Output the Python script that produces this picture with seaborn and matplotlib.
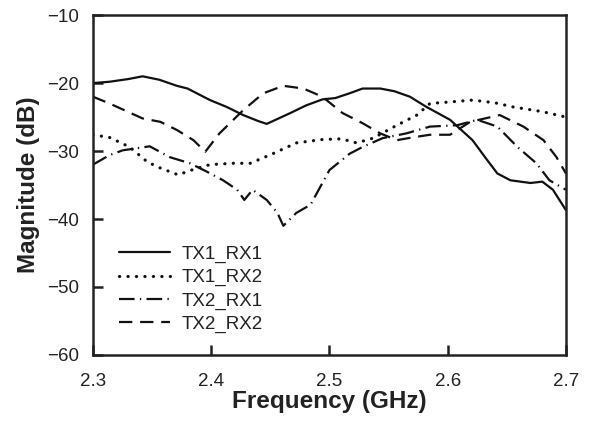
import numpy as np
import pandas as pd
import seaborn as sns
import matplotlib
matplotlib.use('Agg')
import matplotlib.pyplot as plt

sns.set_style('ticks')
plt.rcParams['font.family'] = ['Liberation Sans', 'DejaVu Sans']
plt.rcParams['xtick.direction'] = 'in'
plt.rcParams['ytick.direction'] = 'in'

# values
f_11 = [2.300, 2.314, 2.330, 2.342, 2.356, 2.371, 2.380, 2.399, 2.413, 2.427, 2.440, 2.447,
        2.457, 2.467, 2.480, 2.494, 2.505, 2.517, 2.528, 2.543, 2.555, 2.568, 2.582, 2.602,
        2.621, 2.632, 2.642, 2.653, 2.670, 2.680, 2.689, 2.700]
tx1_rx1 = [-20.0, -19.8, -19.4, -19.0, -19.5, -20.4, -20.8, -22.5, -23.5, -24.7, -25.6, -26.0,
           -25.2, -24.4, -23.3, -22.4, -22.2, -21.5, -20.8, -20.8, -21.2, -22.0, -23.5, -25.4,
           -28.4, -31.0, -33.3, -34.3, -34.7, -34.5, -35.7, -38.7]

f_12 = [2.300, 2.314, 2.331, 2.346, 2.357, 2.372, 2.385, 2.399, 2.418, 2.433, 2.452, 2.472,
        2.494, 2.510, 2.523, 2.537, 2.557, 2.574, 2.585, 2.600, 2.621, 2.640, 2.655, 2.680, 2.700]
tx1_rx2 = [-27.6, -28.0, -29.4, -31.6, -32.5, -33.5, -32.7, -32.0, -31.8, -31.8, -30.4, -28.8,
           -28.3, -28.2, -28.8, -28.1, -26.2, -24.7, -23.0, -22.8, -22.5, -22.9, -23.5, -24.2, -25.0]

f_21 = [2.300, 2.314, 2.325, 2.348, 2.365, 2.382, 2.396, 2.410, 2.422, 2.428, 2.435, 2.447,
        2.456, 2.461, 2.472, 2.484, 2.500, 2.517, 2.528, 2.545, 2.565, 2.585, 2.608, 2.625,
        2.642, 2.659, 2.675, 2.686, 2.700]
tx2_rx1 = [-32.0, -30.6, -29.9, -29.3, -30.9, -31.8, -33.0, -34.3, -35.7, -37.2, -35.7, -37.2,
           -39.1, -41.0, -39.1, -37.9, -32.8, -30.4, -29.4, -28.1, -27.4, -26.4, -26.2, -25.4,
           -26.4, -29.4, -31.8, -34.3, -35.7]

f_22 = [2.300, 2.314, 2.342, 2.357, 2.371, 2.385, 2.395, 2.407, 2.427, 2.444, 2.461, 2.478,
        2.494, 2.511, 2.528, 2.543, 2.557, 2.570, 2.585, 2.602, 2.619, 2.644, 2.664, 2.681,
        2.692, 2.700]
tx2_rx2 = [-22.0, -23.0, -25.2, -25.7, -26.9, -28.4, -30.1, -27.4, -24.0, -21.5, -20.4, -20.8,
           -22.0, -24.4, -25.9, -27.4, -28.4, -28.0, -27.6, -27.6, -25.7, -24.7, -26.4, -28.4,
           -30.9, -33.3]

# name, x, y, dash pattern, cap, width
series = [
    ('TX1_RX1', f_11, tx1_rx1, '-', 'butt', 1.6),
    ('TX1_RX2', f_12, tx1_rx2, (0, (0.05, 2.6)), 'round', 2.3),
    ('TX2_RX1', f_21, tx2_rx1, (0, (7, 2.4, 0.6, 2.4)), 'butt', 1.6),
    ('TX2_RX2', f_22, tx2_rx2, (0, (6, 3.5)), 'butt', 1.6),
]

fig = plt.figure(figsize=(5.92, 4.21), dpi=100)
ax = fig.add_axes([0.157, 0.157, 0.799, 0.807])

for name, f, m, ls, cap, lw in series:
    sns.lineplot(x=f, y=m, ax=ax, color='#111111', linewidth=lw, linestyle=ls,
                 dash_capstyle=cap, label=name, sort=False)

ax.set_xlim(2.3, 2.7)
ax.set_ylim(-60, -10)
ax.set_xticks([2.3, 2.4, 2.5, 2.6, 2.7])
ax.set_xticklabels(['2.3', '2.4', '2.5', '2.6', '2.7'])
ax.set_yticks(np.arange(-60, -9, 10))
ax.tick_params(labelsize=13.5, length=7, width=1.8, colors='#222222')
ax.tick_params(axis='x', pad=13)
ax.tick_params(axis='y', pad=10)
for s in ax.spines.values():
    s.set_linewidth(1.8)
    s.set_color('#222222')

ax.set_xlabel('Frequency (GHz)', fontsize=17.5, fontweight='bold', labelpad=0, color='#222222')
ax.set_ylabel('Magnitude (dB)', fontsize=17.5, fontweight='bold', labelpad=5, color='#222222')

leg = ax.legend(loc='lower left', bbox_to_anchor=(0.02, 0.015), frameon=False, fontsize=13.5,
                handlelength=2.7, labelspacing=0.32, handletextpad=0.6)
for t in leg.get_texts():
    t.set_color('#222222')

plt.savefig('out.png', dpi=100)
